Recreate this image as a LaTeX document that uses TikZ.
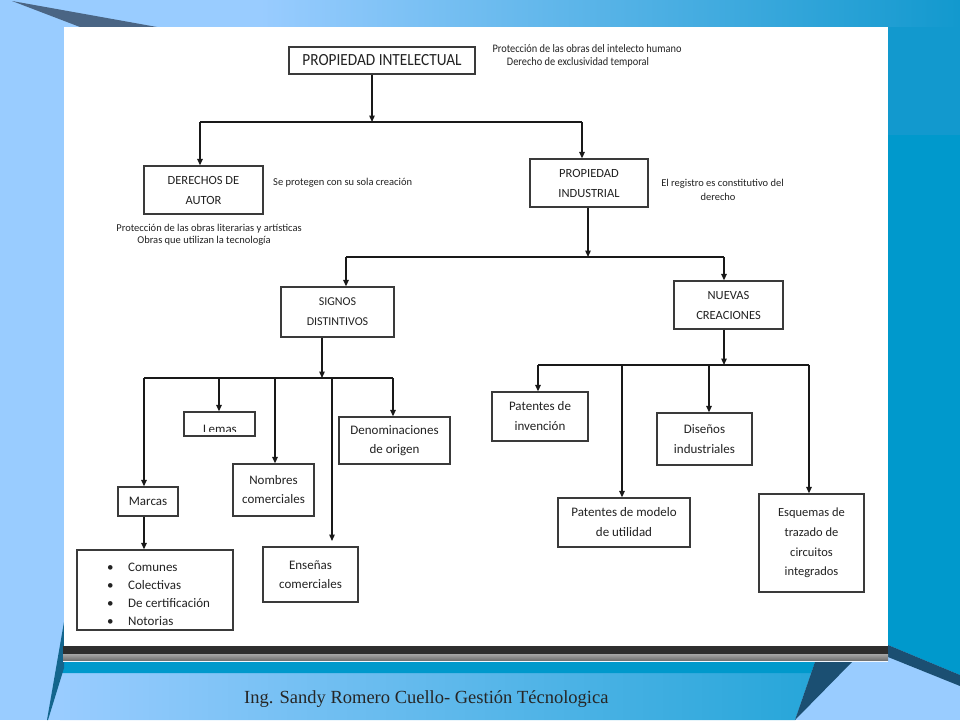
\documentclass[tikz,border=0pt]{standalone}
\usepackage{fontspec}
\setmainfont{Carlito}
\newfontfamily\narrowfont[FakeStretch=0.9]{Carlito}
\newfontfamily\footfont{Liberation Serif}
\usetikzlibrary{arrows.meta}
\definecolor{lightbg}{HTML}{99CCFF}
\definecolor{bluebg}{HTML}{0099CC}
\definecolor{bluetop}{HTML}{1299CE}
\definecolor{navy}{HTML}{1B4F72}
\definecolor{slate}{HTML}{4A6584}
\definecolor{boxline}{HTML}{3A3A3A}
\definecolor{txt}{HTML}{222222}
\begin{document}
\begin{tikzpicture}[x=1pt,y=-1pt,
  box/.style={draw=boxline, line width=1.3pt, fill=white, inner sep=0pt, align=center, text=txt, font=\fontsize{12.5}{20}\selectfont},
  conn/.style={draw=black!90, line width=1.3pt},
  arr/.style={conn, -{Triangle[length=6.5pt,width=5.5pt]}},
  note/.style={text=txt, inner sep=0pt, font=\fontsize{10.5}{14}\selectfont},
  topnote/.style={text=txt, inner sep=0pt, font=\narrowfont\fontsize{11.5}{13}\selectfont},
  listitem/.style={text=txt, inner sep=0pt, anchor=base west, font=\fontsize{13}{18}\selectfont},
]
\useasboundingbox (0,0) rectangle (960,720);
% ---------- background ----------
\fill[lightbg] (0,0) rectangle (960,720);
\shade[left color=lightbg, right color=bluetop] (260,0) rectangle (960,27);
\fill[bluebg] (888,27) -- (960,27) -- (960,675) -- (888,645) -- cycle;
\fill[bluetop] (888,27) rectangle (960,135);
\fill[navy] (888,645) -- (960,675) -- (960,686) -- (888,657) -- cycle;
\fill[slate] (12,1) -- (157,27) -- (80,27) -- cycle;
\shade[left color=lightbg, right color=bluebg!75!lightbg] (60,662) -- (815,662) -- (795,720) -- (60,720) -- cycle;
\fill[bluebg] (60,662) -- (815,662) -- (811,673) -- (60,673) -- cycle;
\fill[navy] (815,662) -- (852,662) -- (795,720) -- cycle;
\fill[navy!70!bluebg] (64,622) -- (64,668) -- (48,720) -- (47,720) -- cycle;
\fill[white] (64,27) rectangle (888,646);
\fill[black!82] (63,646) rectangle (888,654);
\shade[top color=black!35, bottom color=black!55] (63,654) rectangle (888,660);
\draw[line width=1pt, white!85!lightbg] (63,661) -- (888,661);
% ---------- boxes ----------
\node[box, minimum width=186pt, minimum height=27pt, font=\narrowfont\fontsize{17}{20}\selectfont] (pi) at (382,60.5) {PROPIEDAD INTELECTUAL};
\node[box, minimum width=119pt, minimum height=48pt] (da) at (203.5,190) {DERECHOS DE\\AUTOR};
\node[box, minimum width=118pt, minimum height=48pt] (pind) at (589,183) {PROPIEDAD\\INDUSTRIAL};
\node[box, minimum width=113pt, minimum height=50pt, font=\fontsize{12}{20}\selectfont] (sd) at (337.5,312) {SIGNOS\\DISTINTIVOS};
\node[box, minimum width=109pt, minimum height=48pt] (nc) at (728.5,305) {NUEVAS\\CREACIONES};
\node[box, minimum width=60pt, minimum height=29pt, font=\fontsize{13}{20}\selectfont] (marcas) at (148,501.5) {Marcas};
\node[box, minimum width=71pt, minimum height=24pt] (lemas) at (219.5,424) {};
\node[box, minimum width=81pt, minimum height=52pt, font=\fontsize{13}{19}\selectfont] (nombres) at (273.5,490) {Nombres\\comerciales};
\node[box, minimum width=95pt, minimum height=55pt, font=\fontsize{13}{19}\selectfont] (ens) at (310.5,574.5) {Enseñas\\comerciales};
\node[box, minimum width=111pt, minimum height=47pt, font=\fontsize{13}{19}\selectfont] (denom) at (394.5,440.5) {Denominaciones\\de origen};
\node[box, minimum width=156pt, minimum height=80pt] (lista) at (155,590) {};
\node[box, minimum width=96pt, minimum height=49pt, font=\fontsize{13}{20}\selectfont] (pinv) at (540,416.5) {Patentes de\\invención};
\node[box, minimum width=132pt, minimum height=49pt, font=\fontsize{13}{20}\selectfont] (pmod) at (624,522.5) {Patentes de modelo\\de utilidad};
\node[box, minimum width=95pt, minimum height=52pt, font=\fontsize{13}{20}\selectfont] (dis) at (704.5,439) {Diseños\\industriales};
\node[box, minimum width=105pt, minimum height=98pt, font=\fontsize{12.5}{19.7}\selectfont] (esq) at (811.5,543) {Esquemas de\\trazado de\\circuitos\\integrados};
% clipped Lemas text
\begin{scope}
\clip (186,413) rectangle (254,431.5);
\node[text=txt, inner sep=0pt, anchor=base, font=\fontsize{13}{16}\selectfont] (lemastxt) at (220,433) {Lemas};
\end{scope}
% list items
\node[listitem] (l1) at (107,571) {\makebox[21pt][l]{\textbullet}Comunes};
\node[listitem] (l2) at (107,589.5) {\makebox[21pt][l]{\textbullet}Colectivas};
\node[listitem] (l3) at (107,607) {\makebox[21pt][l]{\textbullet}De certificación};
\node[listitem] (l4) at (107,625) {\makebox[21pt][l]{\textbullet}Notorias};
% ---------- notes ----------
\node[topnote, anchor=base] (n1) at (587,52) {Protección de las obras del intelecto humano};
\node[topnote, anchor=base] (n2) at (578,65.5) {Derecho de exclusividad temporal};
\node[note, anchor=base west] (n3) at (273,185.5) {Se protegen con su sola creación};
\node[note, anchor=base] (n4) at (209,231) {Protección de las obras literarias y artísticas};
\node[note, anchor=base] (n5) at (204,243.5) {Obras que utilizan la tecnología};
\node[note, anchor=base] (n6) at (722.5,186) {El registro es constitutivo del};
\node[note, anchor=base] (n7) at (718,200) {derecho};
% ---------- footer ----------
\node[inner sep=0pt, anchor=base west, text=black!85, font=\footfont\fontsize{18.5}{20}\selectfont] (foot) at (244,703) {Ing. Sandy Romero Cuello- Gestión Técnologica};
% ---------- connectors ----------
\coordinate (j1) at (372,122);
\coordinate (j1L) at (200,122);
\coordinate (j1R) at (582,122);
\draw[arr] (pi.south -| j1) -- (j1);
\draw[conn] (j1L) -- (j1R);
\draw[arr] (j1L) -- (j1L |- da.north);
\draw[arr] (j1R) -- (j1R |- pind.north);
\coordinate (j2) at (588,257);
\coordinate (j2L) at (346,257);
\coordinate (j2R) at (724,257);
\draw[arr] (pind.south -| j2) -- (j2);
\draw[conn] (j2L) -- (j2R);
\draw[arr] (j2L) -- (j2L |- sd.north);
\draw[arr] (j2R) -- (j2R |- nc.north);
\coordinate (j3) at (322,378);
\coordinate (b1) at (144,378);
\coordinate (b2) at (219,378);
\coordinate (b3) at (275,378);
\coordinate (b4) at (332,378);
\coordinate (b5) at (393,378);
\coordinate (enstip) at (332,541);
\draw[arr] (sd.south -| j3) -- (j3);
\draw[conn] (b1) -- (b5);
\draw[arr] (b1) -- (b1 |- marcas.north);
\draw[arr] (b2) -- (b2 |- lemas.north);
\draw[arr] (b3) -- (b3 |- nombres.north);
\draw[arr] (b4) -- (enstip);
\draw[arr] (b5) -- (b5 |- denom.north);
\draw[arr] (marcas.south -| b1) -- (lista.north -| b1);
\coordinate (j4) at (724,365);
\coordinate (c1) at (538,365);
\coordinate (c2) at (622,365);
\coordinate (c3) at (709,365);
\coordinate (c4) at (809,365);
\draw[arr] (nc.south -| j4) -- (j4);
\draw[conn] (c1) -- (c4);
\draw[arr] (c1) -- (c1 |- pinv.north);
\draw[arr] (c2) -- (c2 |- pmod.north);
\draw[arr] (c3) -- (c3 |- dis.north);
\draw[arr] (c4) -- (c4 |- esq.north);
\end{tikzpicture}
\end{document}
